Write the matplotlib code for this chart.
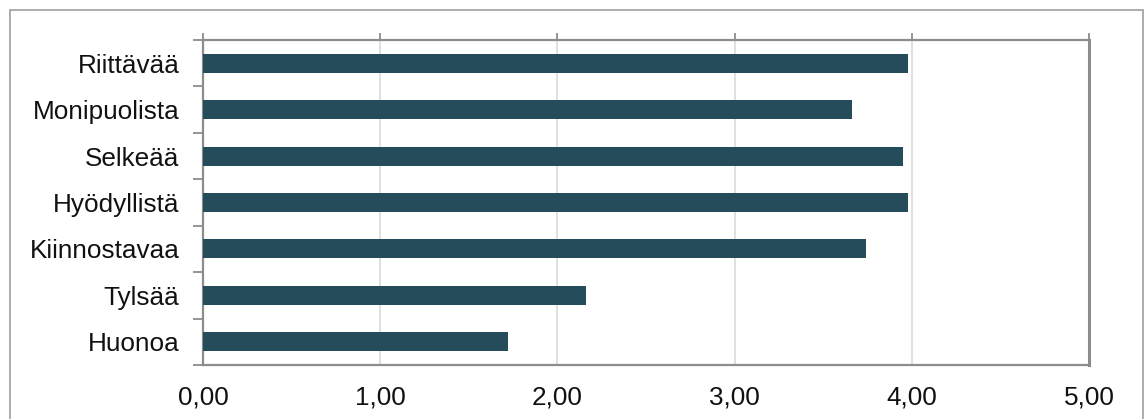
import matplotlib
matplotlib.use("Agg")
import matplotlib.pyplot as plt
from matplotlib.patches import Rectangle
from matplotlib.ticker import FixedLocator, FuncFormatter

categories = ["Riittävää", "Monipuolista", "Selkeää", "Hyödyllistä", "Kiinnostavaa", "Tylsää", "Huonoa"]
values = [3.98, 3.66, 3.95, 3.98, 3.74, 2.16, 1.72]
xticks = [0, 1, 2, 3, 4, 5]

plt.rcParams['font.family'] = ['Liberation Sans', 'DejaVu Sans']

W, H = 1144, 419
fig = plt.figure(figsize=(W / 100, H / 100), dpi=100)
fig.patch.set_facecolor("white")

# outer chart border (bottom extends beyond the image)
fig.patches.append(Rectangle((10 / W, -0.1), (1142.5 - 10) / W, (H - 10) / H + 0.1,
                             transform=fig.transFigure, fill=False,
                             edgecolor="#a6a6a6", linewidth=1.3))

left, right, top, bottom = 203, 1089, 40, 365
ax = fig.add_axes([left / W, (H - bottom) / H, (right - left) / W, (bottom - top) / H])

ypos = list(range(len(categories)))
ax.barh(ypos, values, height=0.41, color="#244c5a", zorder=3)
ax.set_ylim(len(categories) - 0.5, -0.5)
ax.set_xlim(0, 5)

ax.xaxis.set_major_locator(FixedLocator(xticks))
ax.xaxis.set_major_formatter(FuncFormatter(lambda v, p: f"{v:.2f}".replace(".", ",")))
ax.tick_params(axis='x', which='major', top=True, bottom=False, labeltop=False,
               labelbottom=True, direction='out', length=5, width=1.3,
               color="#8c8c8c", labelsize=18.8, pad=10, labelcolor="#111111")
ax.grid(axis='x', color="#e0e0e0", linewidth=1.4, zorder=0)

ax.set_yticks(ypos)
ax.set_yticklabels(categories)
ax.set_yticks([y - 0.5 for y in range(len(categories) + 1)], minor=True)
ax.tick_params(axis='y', which='major', length=0, labelsize=18.8, pad=17, labelcolor="#111111")
ax.tick_params(axis='y', which='minor', length=7, width=1.3, color="#8c8c8c", direction='out')

for side in ["left", "top", "bottom"]:
    ax.spines[side].set_color("#8c8c8c")
    ax.spines[side].set_linewidth(1.6)
ax.spines["right"].set_color("#8c8c8c")
ax.spines["right"].set_linewidth(2.2)

fig.savefig("out.png", dpi=100)
